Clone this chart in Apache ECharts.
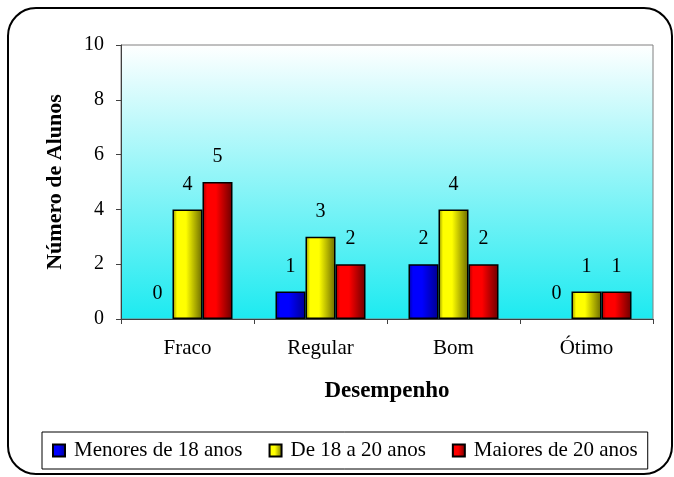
<!DOCTYPE html>
<html>
<head>
<meta charset="utf-8">
<script src="https://cdn.jsdelivr.net/npm/echarts@6/dist/echarts.min.js"></script>
<style>
  html, body { margin: 0; padding: 0; background: #fff; }
  #cnv { width: 674px; height: 477px; }
</style>
</head>
<body>
<div id="cnv"></div>
<script>
var categorias = ["Fraco", "Regular", "Bom", "Ótimo"];
var menores18 = [0, 1, 2, 0];
var de18a20 = [4, 3, 4, 1];
var maiores20 = [5, 2, 2, 1];
var series_nomes = ["Menores de 18 anos", "De 18 a 20 anos", "Maiores de 20 anos"];

function grad(escuro, claro, escuro2) {
    return new echarts.graphic.LinearGradient(0, 0, 1, 0, [
        { offset: 0, color: escuro },
        { offset: 0.15, color: claro },
        { offset: 0.45, color: claro },
        { offset: 1, color: escuro2 }
    ]);
}

// barras de valor 0 sem borda
function dados(arr) {
    return arr.map(function (v) {
        return v === 0 ? { value: v, itemStyle: { borderWidth: 0 } } : v;
    });
}

var fonte = "Liberation Serif, Times New Roman, serif";
var rotulo = {
    show: true,
    position: "top",
    distance: 15,
    color: "#000",
    fontFamily: fonte,
    fontSize: 20
};

var main = document.getElementById("cnv");
var myechart = echarts.init(main);
var option = {
    animation: false,
    textStyle: { fontFamily: fonte },
    graphic: [{
        type: "rect",
        shape: { x: 8, y: 8, width: 664, height: 466, r: 28 },
        style: { fill: "none", stroke: "#000", lineWidth: 2 },
        silent: true
    }],
    grid: {
        left: 121, right: 21, top: 45, bottom: 158,
        show: true,
        borderColor: "#808080",
        borderWidth: 1,
        backgroundColor: new echarts.graphic.LinearGradient(0, 0, 0, 1, [
            { offset: 0, color: "#ffffff" },
            { offset: 1, color: "#1ceaf0" }
        ])
    },
    legend: {
        data: series_nomes,
        icon: "rect",
        left: 42,
        top: 432,
        padding: [8, 10, 8, 10],
        borderColor: "#000",
        borderWidth: 1,
        itemWidth: 12,
        itemHeight: 12,
        itemGap: 26,
        textStyle: { fontFamily: fonte, fontSize: 21, color: "#000", padding: [0, 0, 0, 4] }
    },
    xAxis: {
        type: "category",
        data: categorias,
        name: "Desempenho",
        nameLocation: "middle",
        nameGap: 61,
        nameTextStyle: { fontFamily: fonte, fontSize: 23, fontWeight: "bold", color: "#000" },
        axisLine: { lineStyle: { color: "#404040", width: 1 } },
        axisTick: { show: true, alignWithLabel: false, length: 5, lineStyle: { color: "#404040" } },
        axisLabel: { fontFamily: fonte, fontSize: 21, color: "#000", margin: 19 }
    },
    yAxis: {
        type: "value",
        min: 0,
        max: 10,
        interval: 2,
        name: "Número de Alunos",
        nameLocation: "middle",
        nameGap: 55,
        nameTextStyle: { fontFamily: fonte, fontSize: 22, fontWeight: "bold", color: "#000" },
        axisLine: { show: true, lineStyle: { color: "#404040", width: 1 } },
        axisTick: { show: true, length: 5, lineStyle: { color: "#404040" } },
        splitLine: { show: false },
        axisLabel: { fontFamily: fonte, fontSize: 20, color: "#000", margin: 17 }
    },
    series: [{
        name: series_nomes[0],
        type: "bar",
        data: dados(menores18),
        barWidth: 30,
        barGap: "0%",
        itemStyle: { color: grad("#0000a0", "#0000ff", "#000090"), borderColor: "#000", borderWidth: 1.5 },
        label: rotulo
    }, {
        name: series_nomes[1],
        type: "bar",
        data: dados(de18a20),
        barWidth: 30,
        barGap: "0%",
        itemStyle: { color: grad("#8a8a00", "#ffff00", "#6a6a00"), borderColor: "#000", borderWidth: 1.5 },
        label: rotulo
    }, {
        name: series_nomes[2],
        type: "bar",
        data: dados(maiores20),
        barWidth: 30,
        barGap: "0%",
        itemStyle: { color: grad("#a00000", "#ff0000", "#6a0000"), borderColor: "#000", borderWidth: 1.5 },
        label: rotulo
    }]
};
//将配置项添加echarts对象中
myechart.setOption(option);
</script>
</body>
</html>
